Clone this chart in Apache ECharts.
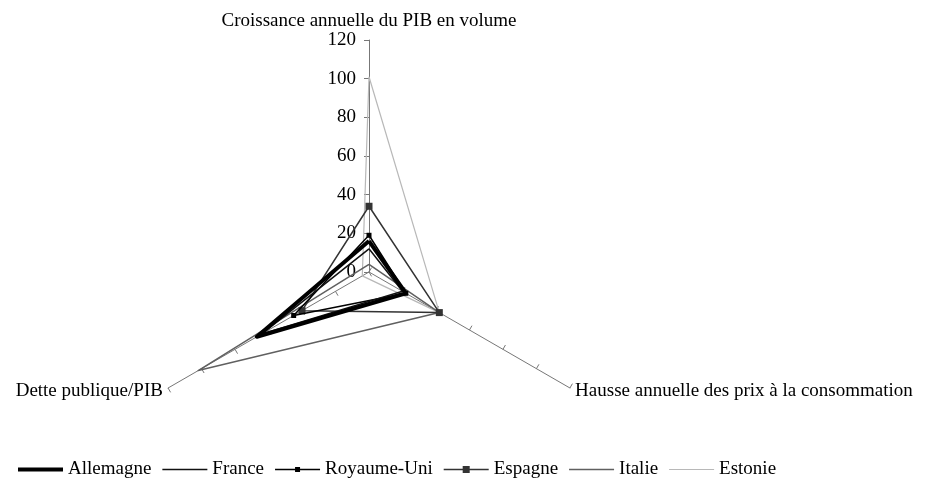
<!DOCTYPE html>
<html>
<head>
<meta charset="utf-8">
<script src="https://cdn.jsdelivr.net/npm/echarts@6/dist/echarts.min.js"></script>
<style>
  html, body { margin: 0; padding: 0; background: #fff; }
  #chart { width: 925px; height: 480px; }
</style>
</head>
<body>
<div id="chart"></div>
<script>
// axes du radar (ordre ECharts : haut, bas-gauche, bas-droite)
var indicateurs = ['Croissance annuelle du PIB en volume', 'Dette publique/PIB', 'Hausse annuelle des prix à la consommation'];
var pays = ['Allemagne', 'France', 'Royaume-Uni', 'Espagne', 'Italie', 'Estonie'];

// valeurs
var croissance = [16, 12, 19, 34, 4, 101];
var dette      = [67, 64, 45, 40, 102, 4];
var prix       = [22, 20, 22, 42, 42, 42];

var axeMin = 0, axeMax = 120, nbGraduations = 6;

var police = 'Liberation Serif';

// style de chaque pays
var styles = [
  { color: '#000', width: 4, symbol: 'none', size: 0 },
  { color: '#111', width: 1.5, symbol: 'none', size: 0 },
  { color: '#000', width: 1.5, symbol: 'rect', size: 5 },
  { color: '#333', width: 1.5, symbol: 'rect', size: 7 },
  { color: '#606060', width: 1.5, symbol: 'none', size: 0 },
  { color: '#b8b8b8', width: 1.2, symbol: 'none', size: 0 }
];

// icone de légende : un trait (avec un petit carré si la série a des marqueurs)
function iconeLegende(s) {
  var w = 45, h = s.width, y0 = 6 - h / 2, y1 = 6 + h / 2;
  var p = 'path://M0,' + y0 + 'L' + w + ',' + y0 + 'L' + w + ',' + y1 + 'L0,' + y1 + 'Z';
  var c = s.size > 0 ? s.size / 2 : 0;
  // boite englobante fixe de 12 px de haut
  p += 'M0,0L0.01,0L0,0.01Z M0,12L0.01,12L0,11.99Z';
  if (c) {
    p += 'M' + (w / 2 - c) + ',' + (6 - c) + 'L' + (w / 2 + c) + ',' + (6 - c) +
         'L' + (w / 2 + c) + ',' + (6 + c) + 'L' + (w / 2 - c) + ',' + (6 + c) + 'Z';
  }
  return p;
}

var chart = echarts.init(document.getElementById('chart'));

var indicator = indicateurs.map(function (nom, i) {
  var ind = { name: nom, min: axeMin, max: axeMax };
  // graduations seulement sur l'axe du haut
  if (i === 0) ind.axisLabel = { show: true };
  return ind;
});

var series = pays.map(function (p, i) {
  var s = styles[i];
  return {
    name: p,
    type: 'radar',
    symbol: s.symbol,
    symbolSize: s.size,
    lineStyle: { color: s.color, width: s.width },
    itemStyle: { color: s.color },
    data: [{ name: p, value: [croissance[i], dette[i], prix[i]] }],
    z: 10 - i
  };
});

var option = {
  backgroundColor: '#fff',
  animation: false,
  textStyle: { fontFamily: police },
  legend: {
    data: pays.map(function (p, i) { return { name: p, icon: iconeLegende(styles[i]) }; }),
    left: 13,
    top: 455,
    itemWidth: 45,
    itemHeight: 12,
    itemGap: 11,
    textStyle: { fontFamily: police, fontSize: 19, color: '#000' }
  },
  radar: {
    center: [369, 272],
    radius: 232,
    startAngle: 90,
    splitNumber: nbGraduations,
    shape: 'polygon',
    indicator: indicator,
    axisName: { color: '#000', fontFamily: police, fontSize: 19 },
    nameGap: 6,
    axisLine: { lineStyle: { color: '#777', width: 1 } },
    axisTick: { show: true, length: 5, lineStyle: { color: '#777' } },
    axisLabel: { show: false, color: '#000', fontFamily: police, fontSize: 19, margin: 13 },
    splitLine: { show: false },
    splitArea: { show: false }
  },
  series: series
};

chart.setOption(option);
</script>
</body>
</html>
